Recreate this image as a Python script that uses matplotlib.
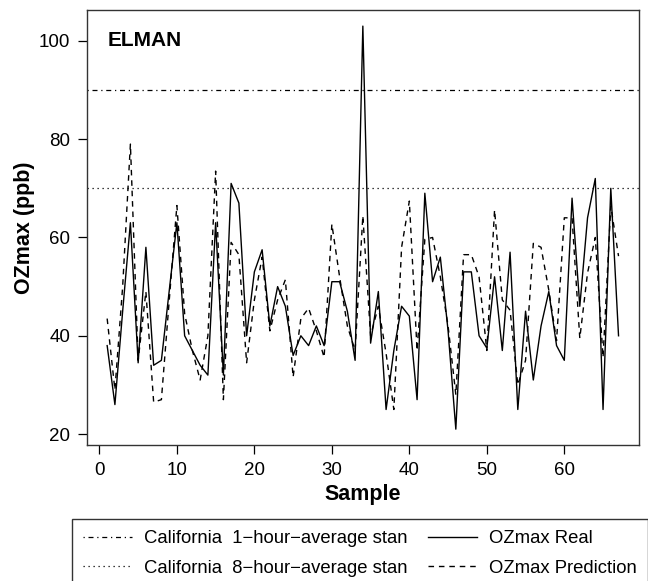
import numpy as np
import matplotlib
matplotlib.use("Agg")
import matplotlib.pyplot as plt

plt.rcParams['font.family'] = ['Liberation Sans', 'DejaVu Sans']

# ozone max, real vs ELMAN prediction (ppb)
sample = np.arange(1, 68)
real = [38, 26, 45, 63, 34.5, 58, 34, 35, 49, 63,
        40, 37, 34, 32, 63, 32, 71, 67, 40, 53,
        57.5, 42, 50, 46, 36, 40, 38, 42, 38, 51,
        51, 45, 35, 103, 38.5, 49, 25, 37, 46, 44,
        27, 69, 51, 56, 41, 21, 53, 53, 40, 37.5,
        52, 37, 57, 25, 45, 31, 42, 49, 38, 35,
        68, 46, 64, 72, 25, 70, 40]
pred = [43.5, 29, 50, 79, 35, 49, 26.5, 27, 47, 66.5,
        44.5, 37, 31, 40, 73.5, 27, 59, 56.5, 34.5, 47.3,
        56, 41, 47.3, 51.4, 31.6, 43.5, 45.6, 41, 35.6, 62.7,
        52, 42, 37, 64.4, 40, 46, 36.4, 25, 58, 67.4,
        37, 59.6, 60, 52, 42, 28, 56.5, 56.5, 52, 37,
        65.6, 47.3, 45.2, 30, 35, 58.8, 58, 49.3, 39, 64,
        64, 39.5, 52.8, 60, 35.6, 66.4, 56.2]
std_1h = 90
std_8h = 70

fig = plt.figure(figsize=(6.48, 5.81), dpi=100)
ax = fig.add_axes([0.1338, 0.2336, 0.8523, 0.7492])

h1 = ax.axhline(std_1h, color='black', lw=0.9, ls=(0, (1, 3, 4, 3)))
h8 = ax.axhline(std_8h, color='black', lw=0.9, ls=(0, (1, 3)))
hr, = ax.plot(sample, real, color='black', lw=1.0, ls='-')
hp, = ax.plot(sample, pred, color='black', lw=1.0, ls=(0, (4, 3.5)))

# R style 4% padding
lo = min(min(real), min(pred))
hi = max(max(real), max(pred))
ax.set_xlim(1 - 0.04 * 66, 67 + 0.04 * 66)
ax.set_ylim(lo - 0.04 * (hi - lo), hi + 0.04 * (hi - lo))
ax.set_xticks([0, 10, 20, 30, 40, 50, 60])
ax.set_yticks([20, 40, 60, 80, 100])
ax.tick_params(direction='out', length=6.3, width=0.9, pad=5.5, labelsize=13.5)
for s in ax.spines.values():
    s.set_linewidth(1.0)
    s.set_color('#333333')

ax.set_xlabel('Sample', fontsize=15.5, fontweight='bold', labelpad=4)
ax.set_ylabel('OZmax (ppb)', fontsize=15.5, fontweight='bold', labelpad=3)
ax.text(0.037, 0.931, 'ELMAN', transform=ax.transAxes, fontsize=15,
        fontweight='bold', va='center', ha='left')

leg = fig.legend([h1, h8, hr, hp],
                 ['California  1\u2212hour\u2212average stan',
                  'California  8\u2212hour\u2212average stan',
                  'OZmax Real', 'OZmax Prediction'],
                 ncol=2, loc='upper left', bbox_to_anchor=(72 / 648, 1 - 519 / 581),
                 fontsize=13.3, frameon=True, fancybox=False, handlelength=2.65,
                 handletextpad=0.65, columnspacing=1.1, labelspacing=0.69,
                 borderpad=0.6, borderaxespad=0)
leg.get_frame().set_edgecolor('black')
leg.get_frame().set_linewidth(1.0)

fig.savefig('out.png', dpi=100)
